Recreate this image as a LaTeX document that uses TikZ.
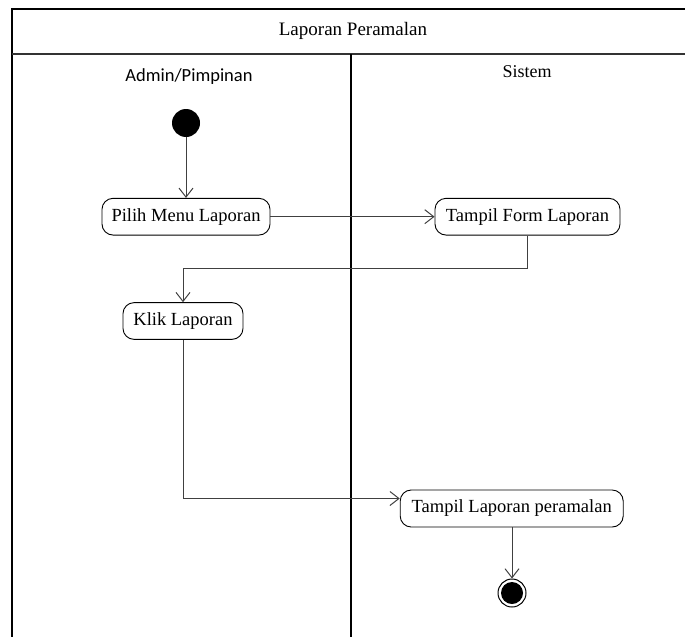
\documentclass[tikz,border=0pt]{standalone}
\usepackage{fontspec}
\setmainfont{Liberation Serif}
\newfontfamily\calibri{Carlito}
\usetikzlibrary{arrows.meta}
\tikzset{
  act/.style={draw=black, line width=0.9pt, rounded corners=11pt, inner sep=0pt,
    minimum height=36.7pt, font=\fontsize{18.5}{21}\selectfont},
  frameline/.style={draw=black, line width=1.4pt},
  flow/.style={draw=black!75, line width=1pt, -{Straight Barb[length=9pt,width=14pt,line width=1pt]}},
  lbl/.style={inner sep=0pt, font=\fontsize{19}{22}\selectfont}
}
\begin{document}
\begin{tikzpicture}[x=1pt,y=-1pt]
\useasboundingbox (0,0) rectangle (685,637);
% frame
\coordinate (tl) at (12,9);
\coordinate (tr) at (685,9);
\coordinate (hl) at (12,54);
\coordinate (hr) at (685,54);
\coordinate (bl) at (12,637);
\coordinate (dtop) at (351,54);
\coordinate (dbot) at (351,637);
\draw[frameline] (tr) -- (tl) -- (bl);
\draw[frameline, draw=black!80] (hl) -- (hr);
\draw[frameline] (dtop) -- (dbot);
% headings
\node[lbl] (title) at (353,31) {Laporan Peramalan};
\node[lbl, font=\calibri\fontsize{18.5}{21}\selectfont] (admin) at (189,77) {Admin/Pimpinan};
\node[lbl, font=\fontsize{18}{21}\selectfont] (sistem) at (527,72) {Sistem};
% nodes
\node[circle, fill=black, minimum size=28pt, inner sep=0pt] (start) at (186,123) {};
\node[act, minimum width=168pt] (pilih) at (186,216.7) {Pilih Menu Laporan};
\node[act, minimum width=185pt] (form) at (527.5,216.7) {Tampil Form Laporan};
\node[act, minimum width=120pt] (klik) at (183,321) {Klik Laporan};
\node[act, minimum width=223pt, minimum height=37pt] (lap) at (511.7,508.5) {Tampil Laporan peramalan};
\node[circle, draw=black, line width=1pt, minimum size=28pt, inner sep=0pt] (end) at (512,593) {};
\fill[black] (end.center) circle (11pt);
% connectors
\draw[flow] (start) -- (pilih);
\draw[flow] (pilih) -- (form);
\draw[flow] (form.south) |- (183,268) -- (klik.north);
\draw[flow] (klik.south) |- ([yshift=10pt]lap.west);
\draw[flow] (lap.south -| end) -- (end.north);
\end{tikzpicture}
\end{document}
